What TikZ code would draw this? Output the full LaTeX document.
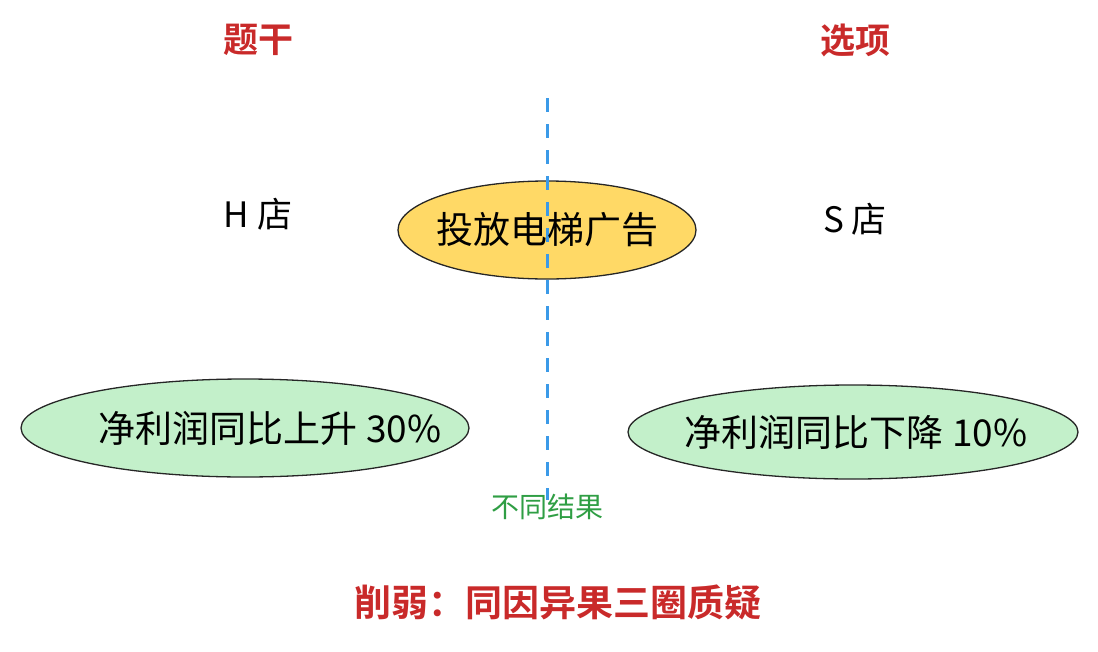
\documentclass[tikz,border=0pt]{standalone}
\usepackage{fontspec}
\setmainfont{Noto Sans CJK SC}[BoldFont={Noto Sans CJK SC Bold}]
\usetikzlibrary{shapes.geometric}
\definecolor{tred}{HTML}{C92A2A}
\definecolor{tgreen}{HTML}{2F9E44}
\definecolor{tblue}{HTML}{3B9AE8}
\definecolor{yfill}{HTML}{FFD966}
\definecolor{gfill}{HTML}{C3F0CA}
\begin{document}
\begin{tikzpicture}[x=1pt,y=-1pt,
  hd/.style={text=tred,font=\fontsize{35}{40}\selectfont\bfseries},
  lb/.style={font=\fontsize{35}{40}\selectfont},
  big/.style={font=\fontsize{37}{42}\selectfont},
  ell/.style={ellipse,draw=black!85,line width=1.3pt,inner sep=0pt}]
\useasboundingbox (0,0) rectangle (1098,651);
\node[hd] (t1) at (258,40) {题干};
\node[hd] (t2) at (855,40) {选项};
\node[lb] (h) at (258,214) {H 店};
\node[lb] (s) at (855,219) {S 店};
\node[ell,fill=yfill,minimum width=298pt,minimum height=98pt] (ad) at (547,230) {};
\node[ell,fill=gfill,minimum width=448pt,minimum height=98pt] (l) at (245,428) {};
\node[ell,fill=gfill,minimum width=450pt,minimum height=94pt] (r) at (853,432) {};
\coordinate (top) at (547,98);
\coordinate (bot) at (547,500);
\draw[tblue,line width=3pt,dash pattern=on 14pt off 12pt] (top) -- (bot);
\node[big] (adt) at (ad.center) {投放电梯广告};
\node[big] (lt) at ([xshift=25pt]l.center) {净利润同比上升 30\%};
\node[big] (rt) at ([xshift=3pt]r.center) {净利润同比下降 10\%};
\node[text=tgreen,font=\fontsize{28}{32}\selectfont] (diff) at (547,507) {不同结果};
\node[text=tred,font=\fontsize{37}{42}\selectfont\bfseries] (con) at (558,602) {削弱：同因异果三圈质疑};
\end{tikzpicture}
\end{document}
